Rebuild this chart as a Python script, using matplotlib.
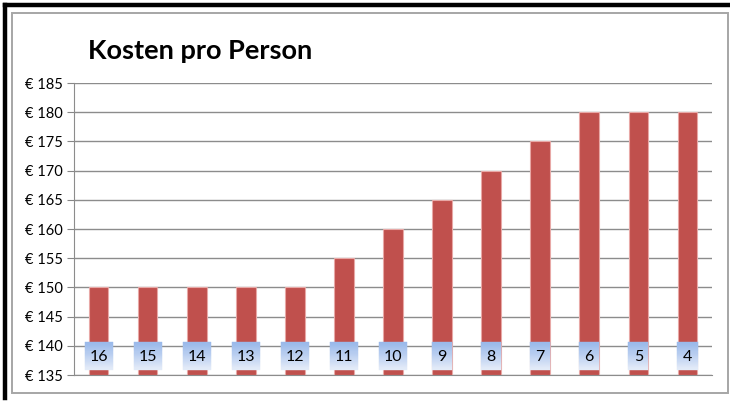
import numpy as np
import matplotlib.pyplot as plt
from matplotlib.lines import Line2D
from matplotlib.patches import Rectangle
from matplotlib.colors import to_rgb

# ----------
# Data
# ----------
groups = ["16", "15", "14", "13", "12", "11", "10", "9", "8", "7", "6", "5", "4"]
cost = [150, 150, 150, 150, 150, 155, 160, 165, 170, 175, 180, 180, 180]
y_ticks = [135, 140, 145, 150, 155, 160, 165, 170, 175, 180, 185]

plt.rcParams["font.family"] = ["Lato", "DejaVu Sans"]

W, H = 730, 403
fig = plt.figure(figsize=(W / 100, H / 100), dpi=100)


def px(x, y):
    # pixel coords (from top-left) -> figure fraction
    return x / W, 1 - y / H


# frame: thick black line top/left, thin gray inner border
x0, y0 = px(5, 5)
x1, y1 = px(730, 398)
fig.add_artist(Line2D([x0, x1], [y0, y0], color="black", lw=3.2, transform=fig.transFigure))
fig.add_artist(Line2D([x0, x0], [y0, y1], color="black", lw=3.2, transform=fig.transFigure))
gx0, gy0 = px(12, 393)
gx1, gy1 = px(728, 13)
fig.add_artist(Rectangle((gx0, gy0), gx1 - gx0, gy1 - gy0, fill=False,
                         edgecolor="#a6a6a6", lw=1.4, transform=fig.transFigure))

ax = fig.add_axes([74 / W, (H - 375) / H, (712 - 74) / W, (375 - 83) / H])

x = np.arange(len(groups))
base = y_ticks[0]
ax.bar(x, [c - base for c in cost], bottom=base, width=0.4,
       color="#c0504d", edgecolor="#e8a8a6", linewidth=0.8, zorder=2)

# category labels in gradient boxes (darker blue at top, pale at bottom)
top_c = np.array(to_rgb("#98b8ea"))
bot_c = np.array(to_rgb("#e6edf9"))
box_lo, box_hi = 135.9, 140.6
n_strips = 24
edges = np.linspace(box_lo, box_hi, n_strips + 1)
for i, name in enumerate(groups):
    w = 0.25 + 0.16 * len(name)
    for k in range(n_strips):
        f = (k + 0.5) / n_strips  # 0 at bottom, 1 at top
        col = bot_c * (1 - f) + top_c * f
        ax.add_patch(Rectangle((i - w / 2, edges[k]), w, edges[k + 1] - edges[k],
                               facecolor=col, edgecolor=col, lw=0.3, zorder=3))
    ax.text(i, 138.15, name, ha="center", va="center", fontsize=11.5,
            color="black", zorder=4)

ax.set_xlim(-0.5, len(groups) - 0.5)
ax.set_ylim(135, 185)
ax.set_yticks(y_ticks)
ax.set_yticklabels([f"€ {t}" for t in y_ticks], fontsize=10.5)
ax.set_xticks([])
ax.tick_params(axis="y", length=5, color="#868686", pad=3)
ax.grid(axis="y", color="#8c8c8c", lw=1, zorder=0)
ax.set_axisbelow(True)
for side in ["top", "right"]:
    ax.spines[side].set_visible(False)
for side in ["left", "bottom"]:
    ax.spines[side].set_color("#8c8c8c")

tx, ty = px(88, 51)
fig.text(tx, ty, "Kosten pro Person", fontsize=19.5, fontweight="bold",
         ha="left", va="center")

fig.savefig("out.png", dpi=100)
